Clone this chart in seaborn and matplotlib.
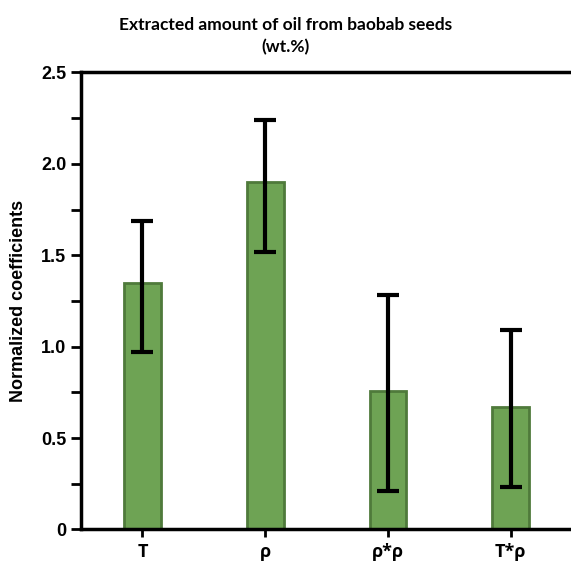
import matplotlib
matplotlib.use("Agg")
import matplotlib.pyplot as plt
import seaborn as sns
import numpy as np
import pandas as pd
from matplotlib.ticker import MultipleLocator

categories = ["T", "ρ", "ρ*ρ", "T*ρ"]
values = [1.35, 1.90, 0.76, 0.67]
err_low = [0.97, 1.52, 0.21, 0.23]
err_high = [1.69, 2.24, 1.285, 1.09]
yticks = [0, 0.5, 1.0, 1.5, 2.0, 2.5]
ytick_labels = ["0", "0.5", "1.0", "1.5", "2.0", "2.5"]

sns.set_style("white")
plt.rcParams["text.color"] = "black"
plt.rcParams["axes.labelcolor"] = "black"
plt.rcParams["xtick.color"] = "black"
plt.rcParams["ytick.color"] = "black"
df = pd.DataFrame({"term": categories, "coef": values})

fig = plt.figure(figsize=(5.71, 5.62), dpi=100)
ax = fig.add_axes([0.142, 0.058, 0.86, 0.813])

sns.barplot(data=df, x="term", y="coef", color="#6ea354", saturation=1,
            width=0.3, edgecolor="#4f7a3b", linewidth=2, ax=ax)

vals = np.array(values)
lower = vals - np.array(err_low)
upper = np.array(err_high) - vals
ax.errorbar(np.arange(len(categories)), vals, yerr=[lower, upper], fmt="none",
            ecolor="black", elinewidth=3, capsize=8, capthick=3, zorder=5)

ax.set_ylim(0, 2.5)
ax.set_xlim(-0.5, 3.5)
ax.set_yticks(yticks)
ax.set_yticklabels(ytick_labels, fontsize=13, fontweight="bold", family="Liberation Sans")
ax.yaxis.set_minor_locator(MultipleLocator(0.25))
ax.tick_params(axis="y", which="both", direction="out", left=True, length=7, width=2)
ax.tick_params(axis="x", direction="out", bottom=True, length=6, width=2)
for lbl in ax.get_xticklabels():
    lbl.set_fontsize(13)
    lbl.set_fontweight("bold")
    lbl.set_family("Open Sans")
ax.set_xlabel("")
ax.set_ylabel("Normalized coefficients", fontsize=13, fontweight="bold",
              family="Liberation Sans", labelpad=10)
fig.text(0.5, 0.955, "Extracted amount of oil from baobab seeds", ha="center",
         va="center", fontsize=12.5, fontweight="bold", family="Lato")
fig.text(0.5, 0.916, "(wt.%)", ha="center", va="center", fontsize=12.5,
         fontweight="bold", family="Lato")

for side in ["left", "bottom", "top"]:
    ax.spines[side].set_visible(True)
    ax.spines[side].set_linewidth(2.5)
    ax.spines[side].set_color("black")
ax.spines["right"].set_visible(False)

fig.savefig("out.png", dpi=100)
